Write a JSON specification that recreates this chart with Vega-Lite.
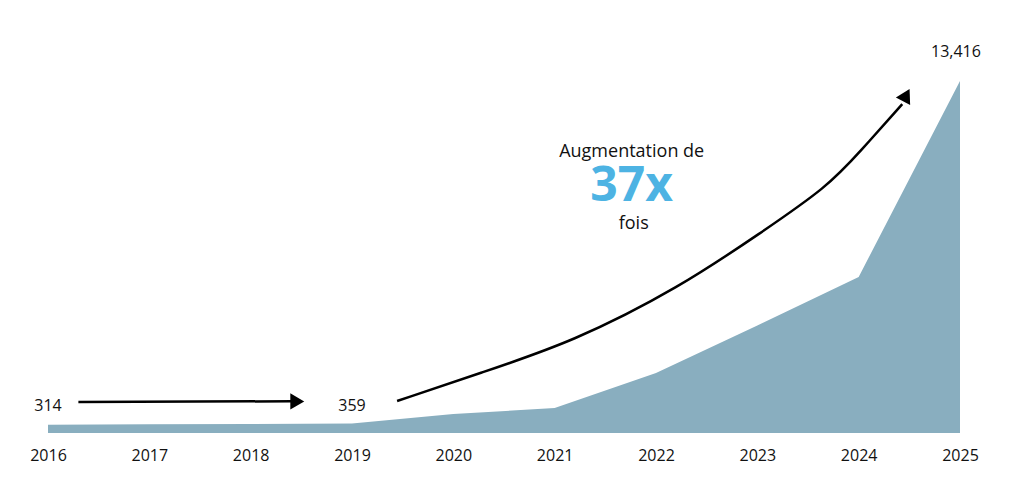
{
  "$schema": "https://vega.github.io/schema/vega-lite/v6.json",
  "width": 912,
  "height": 433,
  "autosize": {"type": "none"},
  "padding": {"left": 48, "top": 0, "right": 64, "bottom": 63},
  "background": "white",
  "config": {"view": {"stroke": null}, "font": "Open Sans"},
  "datasets": {
    "series": [
      {"year": 2016, "value": 314},
      {"year": 2017, "value": 330},
      {"year": 2018, "value": 345},
      {"year": 2019, "value": 359},
      {"year": 2020, "value": 724},
      {"year": 2021, "value": 953},
      {"year": 2022, "value": 2287},
      {"year": 2023, "value": 4100},
      {"year": 2024, "value": 5946},
      {"year": 2025, "value": 13416}
    ],
    "flatArrow": [
      {"year": 2016.3, "value": 1181},
      {"year": 2018.4, "value": 1210}
    ],
    "flatHead": [{"year": 2018.46, "value": 1205}],
    "curveArrow": [
      {"year": 2019.445, "value": 1219},
      {"year": 2020.265, "value": 2286},
      {"year": 2021.18, "value": 3467},
      {"year": 2022.24, "value": 5563},
      {"year": 2023.03, "value": 7620},
      {"year": 2023.69, "value": 9373},
      {"year": 2024.01, "value": 10706},
      {"year": 2024.43, "value": 12535}
    ],
    "curveHead": [{"year": 2024.47, "value": 12878}],
    "valueLabels": [
      {"year": 2016, "value": 1029, "label": "314"},
      {"year": 2019, "value": 1029, "label": "359"},
      {"year": 2024.96, "value": 14516, "label": "13,416"}
    ],
    "headline": [
      {"year": 2021.76, "value": 10706, "label": "Augmentation de"},
      {"year": 2021.78, "value": 7963, "label": "fois"}
    ],
    "big": [{"year": 2021.76, "value": 9373, "label": "37x"}]
  },
  "encoding": {
    "x": {
      "field": "year",
      "type": "quantitative",
      "scale": {"domain": [2016, 2025], "nice": false, "zero": false},
      "axis": {
        "values": [2016, 2017, 2018, 2019, 2020, 2021, 2022, 2023, 2024, 2025],
        "format": "d",
        "ticks": false,
        "domain": false,
        "grid": false,
        "title": null,
        "labelFontSize": 16,
        "labelColor": "#111111",
        "labelPadding": 14,
        "labelFlush": false,
        "labelOverlap": false
      }
    },
    "y": {
      "field": "value",
      "type": "quantitative",
      "scale": {"domain": [0, 16500], "nice": false},
      "axis": null
    }
  },
  "layer": [
    {
      "data": {"name": "series"},
      "mark": {"type": "area", "color": "#89AEBF", "interpolate": "linear"}
    },
    {
      "data": {"name": "flatArrow"},
      "mark": {"type": "line", "color": "#000000", "strokeWidth": 2.5}
    },
    {
      "data": {"name": "flatHead"},
      "mark": {"type": "point", "shape": "triangle-right", "filled": true, "color": "#000000", "size": 260, "opacity": 1}
    },
    {
      "data": {"name": "curveArrow"},
      "mark": {"type": "line", "color": "#000000", "strokeWidth": 2.5, "interpolate": "basis"}
    },
    {
      "data": {"name": "curveHead"},
      "mark": {"type": "point", "shape": "triangle-up", "angle": 28, "filled": true, "color": "#000000", "size": 260, "opacity": 1}
    },
    {
      "data": {"name": "valueLabels"},
      "mark": {"type": "text", "fontSize": 16, "color": "#111111", "align": "center", "baseline": "middle"},
      "encoding": {"text": {"field": "label"}}
    },
    {
      "data": {"name": "headline"},
      "mark": {"type": "text", "fontSize": 18, "color": "#111111", "align": "center", "baseline": "middle"},
      "encoding": {"text": {"field": "label"}}
    },
    {
      "data": {"name": "big"},
      "mark": {"type": "text", "fontSize": 48, "fontWeight": "bold", "color": "#4DB3E3", "align": "center", "baseline": "middle"},
      "encoding": {"text": {"field": "label"}}
    }
  ]
}
